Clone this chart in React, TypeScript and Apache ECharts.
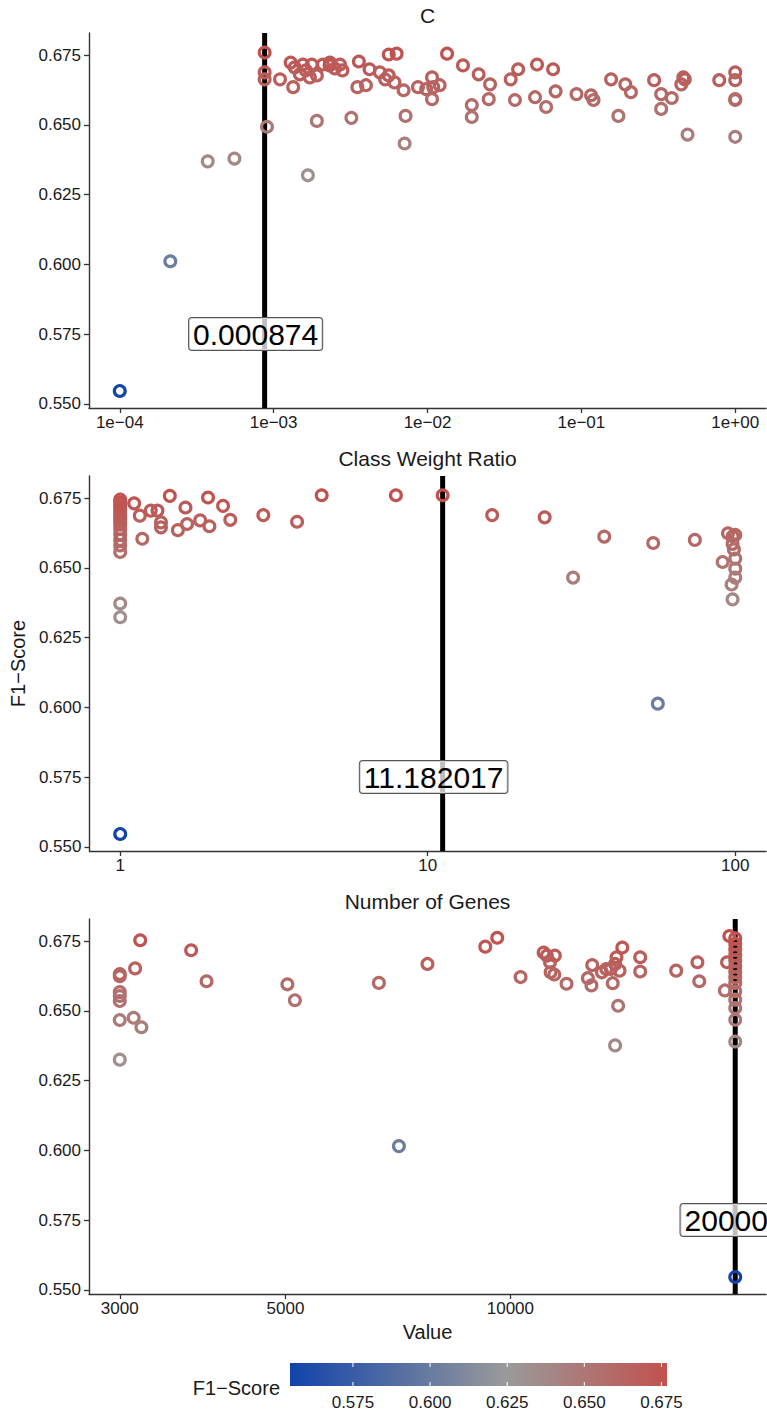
import React, { useEffect, useRef } from "react";
import * as echarts from "echarts";

// ---------- data ----------
// Panel 1: C vs F1-Score
const cPoints: [number, number][] = [
  [1e-4, 0.5546], [2.13e-4, 0.6011], [3.73e-4, 0.6369], [5.56e-4, 0.6379],
  [8.74e-4, 0.6759], [8.74e-4, 0.6688], [8.74e-4, 0.6663], [9.05e-4, 0.6493],
  [1.10e-3, 0.6663], [1.29e-3, 0.6723], [1.34e-3, 0.6635], [1.37e-3, 0.6706],
  [1.48e-3, 0.6681], [1.55e-3, 0.6716], [1.62e-3, 0.6695], [1.72e-3, 0.667],
  [1.77e-3, 0.6716], [1.67e-3, 0.6319], [1.91e-3, 0.6677], [1.91e-3, 0.6514],
  [2.31e-3, 0.6713], [2.09e-3, 0.6716], [2.32e-3, 0.6723], [2.5e-3, 0.6702],
  [2.7e-3, 0.6716], [2.8e-3, 0.6695], [3.2e-3, 0.6525], [3.58e-3, 0.6727],
  [3.5e-3, 0.6635], [3.98e-3, 0.6642], [4.2e-3, 0.6699], [4.9e-3, 0.6688],
  [5.3e-3, 0.6663], [5.6e-3, 0.6677], [5.6e-3, 0.6752], [6.3e-3, 0.6755],
  [6.1e-3, 0.6652], [6.99e-3, 0.6624], [7.2e-3, 0.6532], [7.1e-3, 0.6433],
  [8.67e-3, 0.6635], [9.8e-3, 0.6628], [1.07e-2, 0.667], [1.09e-2, 0.6635],
  [1.07e-2, 0.6592], [1.2e-2, 0.6642], [1.34e-2, 0.6755], [1.7e-2, 0.6713],
  [1.94e-2, 0.6571], [1.94e-2, 0.6528], [2.15e-2, 0.6681], [2.55e-2, 0.6645],
  [2.5e-2, 0.6592], [3.47e-2, 0.6663], [3.88e-2, 0.6699], [3.7e-2, 0.6589],
  [5.15e-2, 0.6716], [5.0e-2, 0.6599], [5.9e-2, 0.6564], [6.55e-2, 0.6699],
  [6.8e-2, 0.662], [9.3e-2, 0.661], [0.1156, 0.6606], [0.12, 0.6589],
  [0.156, 0.6663], [0.174, 0.6532], [0.193, 0.6645], [0.21, 0.6617],
  [0.297, 0.666], [0.33, 0.661], [0.33, 0.6557], [0.387, 0.6596],
  [0.446, 0.6645], [0.46, 0.667], [0.47, 0.6663], [0.49, 0.6465],
  [0.787, 0.666], [1, 0.6688], [1, 0.666], [1, 0.6592], [1, 0.6589], [1, 0.6457],
];

// Panel 2: Class Weight Ratio vs F1-Score
const ratioPoints: [number, number][] = [
  [1, 0.5546], [1, 0.6323], [1, 0.6372], [1, 0.6557], [1, 0.658], [1, 0.66],
  [1, 0.662], [1, 0.664], [1, 0.6655], [1, 0.6665], [1, 0.6675], [1, 0.6685],
  [1, 0.6695], [1, 0.6705], [1, 0.6715], [1, 0.6725], [1, 0.6735], [1, 0.6745],
  [1.11, 0.6731], [1.158, 0.6687], [1.18, 0.6604], [1.257, 0.6705], [1.322, 0.6705],
  [1.357, 0.6663], [1.357, 0.6645], [1.45, 0.6758], [1.54, 0.6635], [1.63, 0.6716],
  [1.65, 0.6657], [1.82, 0.667], [1.93, 0.6752], [1.95, 0.6649], [2.16, 0.6722],
  [2.28, 0.6672], [2.92, 0.6689], [3.76, 0.6665], [4.52, 0.676], [7.88, 0.676],
  [11.182, 0.676], [16.2, 0.6689], [24.0, 0.6681], [29.7, 0.6465], [37.5, 0.6612],
  [54.1, 0.6589], [56.0, 0.6013], [73.9, 0.66], [94.7, 0.6624], [98.1, 0.6613],
  [100, 0.6618], [98, 0.6586], [99, 0.6566], [100, 0.6533], [100, 0.6497],
  [100, 0.6465], [91, 0.6521], [97.3, 0.644], [98, 0.6387],
];

// Panel 3: Number of Genes vs F1-Score
const genePoints: [number, number][] = [
  [3000, 0.6632], [3000, 0.6624], [3000, 0.6567], [3000, 0.6553], [3000, 0.6535],
  [3000, 0.6467], [3000, 0.6325], [3145, 0.6652], [3195, 0.6753], [3131, 0.6475],
  [3207, 0.6441], [3738, 0.6717], [3920, 0.6606], [5029, 0.6595], [5147, 0.6538],
  [6668, 0.66], [7093, 0.6015], [7745, 0.6668], [9256, 0.673], [9603, 0.6762],
  [10320, 0.6621], [11080, 0.6709], [11190, 0.6698], [11470, 0.6698], [11300, 0.6674],
  [11320, 0.6638], [11450, 0.663], [11890, 0.6597], [12700, 0.6617], [12840, 0.6591],
  [12870, 0.6664], [13260, 0.6638], [13440, 0.665], [13630, 0.665], [13710, 0.6599],
  [13810, 0.6668], [13870, 0.6692], [14120, 0.6727], [14000, 0.6644], [13940, 0.6518],
  [13810, 0.6376], [14920, 0.6692], [14920, 0.6641], [16670, 0.6644], [17800, 0.6674],
  [17900, 0.6606], [19370, 0.6573], [19500, 0.6674], [19640, 0.6768],
  [20000, 0.5546], [20000, 0.639], [20000, 0.6468], [20000, 0.651], [20000, 0.654],
  [20000, 0.657], [20000, 0.66], [20000, 0.662], [20000, 0.664], [20000, 0.666],
  [20000, 0.668], [20000, 0.67], [20000, 0.672], [20000, 0.674], [20000, 0.676],
];

const cTicks = [1e-4, 1e-3, 1e-2, 1e-1, 1];
const cTickLabels = ["1e\u221204", "1e\u221203", "1e\u221202", "1e\u221201", "1e+00"];
const ratioTicks = [1, 10, 100];
const ratioTickLabels = ["1", "10", "100"];
const geneTicks = [3000, 5000, 10000];
const geneTickLabels = ["3000", "5000", "10000"];
const f1Ticks = [0.55, 0.575, 0.6, 0.625, 0.65, 0.675];
const legendTicks = [0.575, 0.6, 0.625, 0.65, 0.675];

const panelTitles = ["C", "Class Weight Ratio", "Number of Genes"];
const bestValues = [0.000874, 11.182017, 20000];
const bestLabels = ["0.000874", "11.182017", "20000"];
const bestLabelScore = 0.575;

// ---------- styling / layout ----------
const FONT = "'Liberation Sans', Arial, Helvetica, sans-serif";
const AXIS_COLOR = "#333333";
const TEXT_COLOR = "#1a1a1a";
const GRID_LEFT = 89;
const GRID_WIDTH = 677;
const PANEL_TOP = 33;
const PANEL_H = 375;
const PANEL_STEP = 443;
const LOW = "#1143AB";
const MID = "#9A9A9A";
const HIGH = "#C1514E";
const MIDPOINT = 0.625;

const allScores = [...cPoints, ...ratioPoints, ...genePoints].map((p) => p[1]);
const legendMin = Math.min(...allScores);
const legendMax = Math.max(...allScores);
const yPad = (legendMax - legendMin) * 0.05;
const yMin = legendMin - yPad;
const yMax = legendMax + yPad;

function hexToRgb(h: string) {
  const n = parseInt(h.slice(1), 16);
  return [(n >> 16) & 255, (n >> 8) & 255, n & 255];
}
function mix(a: string, b: string, t: number) {
  const A = hexToRgb(a);
  const B = hexToRgb(b);
  const c = A.map((v, i) => Math.round(v + (B[i] - v) * Math.max(0, Math.min(1, t))));
  return `rgb(${c[0]},${c[1]},${c[2]})`;
}
function scoreColor(v: number) {
  if (v <= MIDPOINT) return mix(LOW, MID, (v - legendMin) / (MIDPOINT - legendMin));
  return mix(MID, HIGH, (v - MIDPOINT) / (legendMax - MIDPOINT));
}
const RAMP_N = 41;
const colorRamp = Array.from({ length: RAMP_N }, (_, i) =>
  scoreColor(legendMin + (i * (legendMax - legendMin)) / (RAMP_N - 1))
);

function logRange(pts: [number, number][]) {
  const logs = pts.map((p) => Math.log10(p[0]));
  const lo = Math.min(...logs);
  const hi = Math.max(...logs);
  const pad = (hi - lo) * 0.05;
  return [Math.pow(10, lo - pad), Math.pow(10, hi + pad)];
}

function labelFor(ticks: number[], labels: string[]) {
  return (v: number) => {
    const i = ticks.findIndex((t) => Math.abs(t - v) / Math.abs(t) < 1e-6);
    return i >= 0 ? labels[i] : "";
  };
}

const panels = [
  { points: cPoints, ticks: cTicks, labels: cTickLabels },
  { points: ratioPoints, ticks: ratioTicks, labels: ratioTickLabels },
  { points: genePoints, ticks: geneTicks, labels: geneTickLabels },
];

export default function App() {
  const ref = useRef<HTMLDivElement>(null);

  useEffect(() => {
    if (!ref.current) return;
    const chart = echarts.init(ref.current, undefined, { renderer: "svg" });

    const grid: any[] = [];
    const xAxis: any[] = [];
    const yAxis: any[] = [];
    const series: any[] = [];
    const graphic: any[] = [];
    const pointSeriesIdx: number[] = [];

    panels.forEach((pn, i) => {
      const top = PANEL_TOP + i * PANEL_STEP;
      grid.push({ left: GRID_LEFT, top, width: GRID_WIDTH, height: PANEL_H, containLabel: false });
      const [xmin, xmax] = logRange(pn.points);
      xAxis.push({
        type: "log",
        logBase: 10,
        gridIndex: i,
        min: xmin,
        max: xmax,
        axisLine: { show: true, lineStyle: { color: AXIS_COLOR, width: 1.4 } },
        axisTick: { show: true, customValues: pn.ticks, length: 5, lineStyle: { color: AXIS_COLOR, width: 1.3 } },
        axisLabel: {
          customValues: pn.ticks,
          formatter: labelFor(pn.ticks, pn.labels),
          fontSize: 17,
          color: TEXT_COLOR,
          fontFamily: FONT,
          margin: 6,
        },
        splitLine: { show: false },
        minorTick: { show: false },
        ...(i === 2
          ? {
              name: "Value",
              nameLocation: "middle",
              nameGap: 28,
              nameTextStyle: { fontSize: 20, color: TEXT_COLOR, fontFamily: FONT },
            }
          : {}),
      });
      yAxis.push({
        type: "value",
        gridIndex: i,
        min: yMin,
        max: yMax,
        axisLine: { show: true, lineStyle: { color: AXIS_COLOR, width: 1.4 } },
        axisTick: { show: true, customValues: f1Ticks, length: 5, lineStyle: { color: AXIS_COLOR, width: 1.3 } },
        axisLabel: {
          customValues: f1Ticks,
          formatter: (v: number) => v.toFixed(3),
          fontSize: 17,
          color: TEXT_COLOR,
          fontFamily: FONT,
          margin: 8,
        },
        splitLine: { show: false },
        ...(i === 1
          ? {
              name: "F1\u2212Score",
              nameLocation: "middle",
              nameGap: 58,
              nameTextStyle: { fontSize: 20, color: TEXT_COLOR, fontFamily: FONT },
            }
          : {}),
      });

      // vertical line at the best value
      series.push({
        type: "custom",
        xAxisIndex: i,
        yAxisIndex: i,
        z: 1,
        silent: true,
        data: [[bestValues[i], bestLabelScore]],
        encode: { x: 0, y: 1 },
        renderItem: (params: any, api: any) => {
          const cs = params.coordSys;
          const x = api.coord([api.value(0), api.value(1)])[0];
          return {
            type: "line",
            shape: { x1: x, y1: cs.y, x2: x, y2: cs.y + cs.height },
            style: { stroke: "#000", lineWidth: 5 },
          };
        },
      });

      // hollow circles coloured by F1
      pointSeriesIdx.push(series.length);
      series.push({
        type: "custom",
        xAxisIndex: i,
        yAxisIndex: i,
        z: 2,
        silent: true,
        data: pn.points,
        encode: { x: 0, y: 1 },
        renderItem: (_params: any, api: any) => {
          const p = api.coord([api.value(0), api.value(1)]);
          return {
            type: "circle",
            shape: { cx: p[0], cy: p[1], r: 5.4 },
            style: { fill: "none", stroke: api.visual("color"), lineWidth: 3.2 },
          };
        },
      });

      // value label box
      series.push({
        type: "custom",
        xAxisIndex: i,
        yAxisIndex: i,
        z: 3,
        silent: true,
        data: [[bestValues[i], bestLabelScore]],
        encode: { x: 0, y: 1 },
        renderItem: (_params: any, api: any) => {
          const p = api.coord([api.value(0), api.value(1)]);
          return {
            type: "text",
            x: p[0] - 9,
            y: p[1],
            style: {
              text: bestLabels[i],
              fontSize: 30,
              fontFamily: FONT,
              fill: "#000",
              align: "center",
              verticalAlign: "middle",
              backgroundColor: "rgba(255,255,255,0.75)",
              borderColor: "#555",
              borderWidth: 1,
              borderRadius: 3,
              padding: [2, 4, 0, 4],
            },
          };
        },
      });

      graphic.push({
        type: "text",
        x: GRID_LEFT + GRID_WIDTH / 2,
        y: top - 18,
        style: {
          text: panelTitles[i],
          fontSize: 21,
          fontFamily: FONT,
          fill: TEXT_COLOR,
          align: "center",
          verticalAlign: "middle",
        },
      });
    });

    // colour bar legend
    grid.push({ left: 290, top: 1363, width: 377, height: 23 });
    xAxis.push({
      type: "value",
      gridIndex: 3,
      min: legendMin,
      max: legendMax,
      axisLine: { show: false },
      axisTick: { show: false },
      splitLine: { show: false },
      axisLabel: {
        customValues: legendTicks,
        formatter: (v: number) => v.toFixed(3),
        fontSize: 17,
        color: TEXT_COLOR,
        fontFamily: FONT,
        margin: 8,
      },
    });
    yAxis.push({ type: "value", gridIndex: 3, min: 0, max: 1, show: false });
    const gradient = new echarts.graphic.LinearGradient(
      0, 0, 1, 0,
      colorRamp.map((c, k) => ({ offset: k / (RAMP_N - 1), color: c }))
    );
    series.push({
      type: "custom",
      xAxisIndex: 3,
      yAxisIndex: 3,
      silent: true,
      data: [[legendMin, legendMax]],
      encode: { x: [0, 1] },
      renderItem: (params: any, api: any) => {
        const cs = params.coordSys;
        const x0 = api.coord([api.value(0), 0])[0];
        const x1 = api.coord([api.value(1), 0])[0];
        const children: any[] = [
          { type: "rect", shape: { x: x0, y: cs.y, width: x1 - x0, height: cs.height }, style: { fill: gradient } },
        ];
        legendTicks.forEach((t) => {
          const x = api.coord([t, 0])[0];
          children.push({ type: "line", shape: { x1: x, y1: cs.y, x2: x, y2: cs.y + 4 }, style: { stroke: "#fff", lineWidth: 1 } });
          children.push({
            type: "line",
            shape: { x1: x, y1: cs.y + cs.height - 4, x2: x, y2: cs.y + cs.height },
            style: { stroke: "#fff", lineWidth: 1 },
          });
        });
        return { type: "group", children };
      },
    });
    graphic.push({
      type: "text",
      x: 280,
      y: 1388,
      style: {
        text: "F1\u2212Score",
        fontSize: 20,
        fontFamily: FONT,
        fill: TEXT_COLOR,
        align: "right",
        verticalAlign: "middle",
      },
    });

    chart.setOption({
      animation: false,
      backgroundColor: "#ffffff",
      textStyle: { fontFamily: FONT },
      grid,
      xAxis,
      yAxis,
      visualMap: {
        type: "continuous",
        show: false,
        min: legendMin,
        max: legendMax,
        dimension: 1,
        seriesIndex: pointSeriesIdx,
        inRange: { color: colorRamp },
      },
      series,
      graphic,
    });

    return () => chart.dispose();
  }, []);

  return (
    <div
      ref={ref}
      style={{ position: "absolute", left: 0, top: 0, width: 767, height: 1416, background: "#fff" }}
    />
  );
}
